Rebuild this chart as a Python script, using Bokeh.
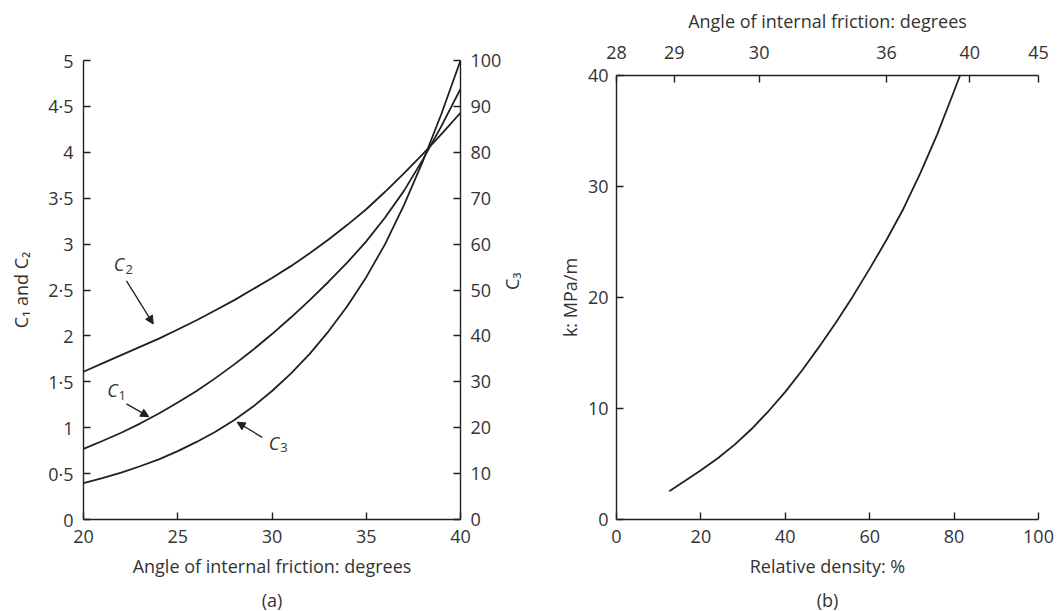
import math
from bokeh.plotting import figure
from bokeh.models import (Range1d, LinearAxis, FixedTicker, CustomJSTickFormatter,
                          Arrow, NormalHead, Label, Title)
from bokeh.embed import file_html
from bokeh.resources import INLINE

# ---------------- data: panel (a) ----------------
phi = [20, 21, 22, 23, 24, 25, 26, 27, 28, 29, 30,
       31, 32, 33, 34, 35, 36, 37, 38, 39, 40]
c1 = [0.77, 0.855, 0.945, 1.045, 1.155, 1.275, 1.40, 1.54, 1.69, 1.85, 2.02,
      2.20, 2.39, 2.59, 2.80, 3.03, 3.29, 3.58, 3.92, 4.29, 4.69]
c2 = [1.61, 1.70, 1.79, 1.88, 1.97, 2.07, 2.17, 2.28, 2.39, 2.51, 2.63,
      2.76, 2.90, 3.05, 3.21, 3.38, 3.57, 3.77, 3.98, 4.20, 4.43]
c3 = [7.9, 9.0, 10.2, 11.6, 13.1, 14.9, 16.9, 19.1, 21.7, 24.6, 28.0,
      31.8, 36.1, 41.0, 46.5, 52.8, 60.0, 68.5, 78.0, 88.5, 100.0]
a_xticks = [20, 25, 30, 35, 40]
a_yticks = [0, 0.5, 1, 1.5, 2, 2.5, 3, 3.5, 4, 4.5, 5]
a_c3ticks = [0, 10, 20, 30, 40, 50, 60, 70, 80, 90, 100]

# curve annotations (label text, arrow tail -> tip) in panel (a) data units
ann_names = ["C", "C", "C"]
ann_subs = ["2", "1", "3"]
ann_x = [21.61, 21.26, 29.83]
ann_y = [2.78, 1.41, 0.83]
sub_x = [22.23, 21.86, 30.44]
sub_y = [2.72, 1.35, 0.78]
arr_x0 = [22.28, 22.28, 29.48]
arr_y0 = [2.60, 1.26, 0.895]
arr_x1 = [23.70, 23.46, 28.15]
arr_y1 = [2.13, 1.12, 1.06]

# ---------------- data: panel (b) ----------------
rel_density = [12.5, 16, 20, 24, 28, 32, 36, 40, 44, 48, 52,
               56, 60, 64, 68, 72, 76, 80, 81.5]
k_value = [2.55, 3.42, 4.43, 5.52, 6.75, 8.15, 9.75, 11.5, 13.45, 15.55, 17.75,
           20.1, 22.6, 25.2, 28.0, 31.2, 34.7, 38.6, 40.1]
b_xticks = [0, 20, 40, 60, 80, 100]
b_yticks = [0, 10, 20, 30, 40]
top_pos = [0, 13.7, 33.8, 64.0, 83.7, 100]
top_labels = ["28", "29", "30", "36", "40", "45"]

FONT = "Open Sans"
TXT = "#333333"
LINE = "#231f20"


def style_axis(ax, tick_standoff, label_standoff):
    ax.axis_line_color = LINE
    ax.axis_line_width = 1.4
    ax.major_tick_line_color = LINE
    ax.major_tick_line_width = 1.4
    ax.major_tick_in = 7
    ax.major_tick_out = 0
    ax.minor_tick_line_color = None
    ax.major_label_text_font = FONT
    ax.major_label_text_font_size = "18px"
    ax.major_label_text_color = TXT
    ax.axis_label_text_font = FONT
    ax.axis_label_text_font_size = "18px"
    ax.axis_label_text_font_style = "normal"
    ax.axis_label_text_color = TXT
    ax.major_label_standoff = tick_standoff
    ax.axis_label_standoff = label_standoff


def caption(p, text):
    p.add_layout(Title(text=text, align="center", text_font=FONT, text_font_size="18px",
                       text_font_style="normal", text_color=TXT, standoff=11), "below")


# ---------------- panel (a) ----------------
pa = figure(width=540, height=620, x_range=Range1d(20, 40), y_range=Range1d(0, 5),
            output_backend="svg", toolbar_location=None,
            min_border_left=83, min_border_right=80, min_border_top=60, min_border_bottom=101)
pa.grid.visible = False
pa.outline_line_color = None
pa.extra_y_ranges = {"c3": Range1d(0, 100)}

pa.xaxis.ticker = FixedTicker(ticks=a_xticks)
pa.xaxis.axis_label = "Angle of internal friction: degrees"
pa.yaxis.ticker = FixedTicker(ticks=a_yticks)
pa.yaxis.formatter = CustomJSTickFormatter(code="return tick.toString().replace('.', '\u00b7');")
pa.yaxis.axis_label = "C\u2081 and C\u2082"
ax3 = LinearAxis(y_range_name="c3", ticker=FixedTicker(ticks=a_c3ticks), axis_label="C\u2083")
pa.add_layout(ax3, "right")
for ax in pa.xaxis:
    style_axis(ax, 10, 8)
for ax in pa.yaxis:
    style_axis(ax, 10, 12)
style_axis(ax3, 10, 8)
ax3.axis_label_orientation = math.pi / 2

pa.line(phi, c2, line_color=LINE, line_width=1.8)
pa.line(phi, c1, line_color=LINE, line_width=1.8)
pa.line(phi, c3, line_color=LINE, line_width=1.8, y_range_name="c3")

for i in range(3):
    pa.add_layout(Label(x=ann_x[i], y=ann_y[i], text=ann_names[i], text_font=FONT,
                        text_font_size="18px", text_font_style="italic", text_color=TXT,
                        text_align="left", text_baseline="middle"))
    pa.add_layout(Label(x=sub_x[i], y=sub_y[i], text=ann_subs[i], text_font=FONT,
                        text_font_size="13px", text_color=TXT,
                        text_align="left", text_baseline="middle"))
    pa.add_layout(Arrow(x_start=arr_x0[i], y_start=arr_y0[i], x_end=arr_x1[i], y_end=arr_y1[i],
                        line_color=LINE, line_width=1.3,
                        end=NormalHead(size=8, fill_color=LINE, line_color=LINE, line_width=1)))
caption(pa, "(a)")

# ---------------- panel (b) ----------------
pb = figure(width=516, height=620, x_range=Range1d(0, 100), y_range=Range1d(0, 40),
            output_backend="svg", toolbar_location=None,
            min_border_left=76, min_border_right=18, min_border_top=75, min_border_bottom=101)
pb.grid.visible = False
pb.outline_line_color = None
pb.xaxis.ticker = FixedTicker(ticks=b_xticks)
pb.xaxis.axis_label = "Relative density: %"
pb.yaxis.ticker = FixedTicker(ticks=b_yticks)
pb.yaxis.axis_label = "k: MPa/m"
top = LinearAxis(ticker=FixedTicker(ticks=top_pos),
                 formatter=CustomJSTickFormatter(args=dict(pos=top_pos, lab=top_labels), code="""
                     for (let i = 0; i < pos.length; i++) {
                         if (Math.abs(pos[i] - tick) < 1e-6) { return lab[i]; }
                     }
                     return "";
                 """),
                 axis_label="Angle of internal friction: degrees")
pb.add_layout(top, "above")
for ax in pb.xaxis:
    style_axis(ax, 10, 8)
for ax in pb.yaxis:
    style_axis(ax, 8, 3)
style_axis(top, 17, 10)

pb.line(rel_density, k_value, line_color=LINE, line_width=1.8)
caption(pb, "(b)")

STYLE = ("<style>html, body { overflow: hidden; } "
         "body { display: flex; flex-direction: row; align-items: flex-start; }</style>")
html = file_html([pa, pb], INLINE)
html = html.replace("</head>", STYLE + "</head>", 1)
open("out.html", "w").write(html)
